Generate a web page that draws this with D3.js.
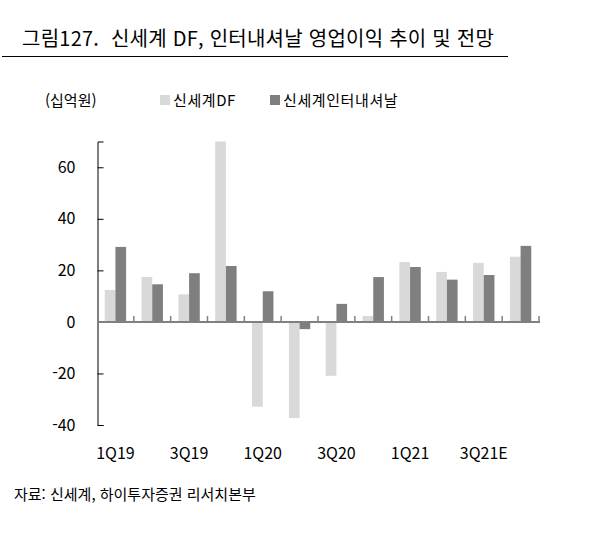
<!DOCTYPE html>
<html lang="ko">
<head>
<meta charset="utf-8">
<script src="https://d3js.org/d3.v7.min.js"></script>
<style>
	body { margin: 0; background: #fff; }
	text { font-family: 'Noto Sans CJK KR', 'Noto Sans', sans-serif; fill: #000; }
</style>
</head>
<body>
<script>
	// data (십억원)
	var quarters = ["1Q19","2Q19","3Q19","4Q19","1Q20","2Q20","3Q20","4Q20","1Q21","2Q21","3Q21E","4Q21E"];
	var dfValues = [12.4, 17.4, 10.7, 70, -32.9, -37.3, -20.9, 2.3, 23.2, 19.4, 22.9, 25.3];
	var intlValues = [29.1, 14.6, 18.9, 21.7, 11.9, -2.8, 7.0, 17.4, 21.3, 16.4, 18.2, 29.5];
	var seriesNames = ["신세계DF", "신세계인터내셔날"];
	var yTicks = [-40, -20, 0, 20, 40, 60];
	var shownLabels = ["1Q19","3Q19","1Q20","3Q20","1Q21","3Q21E"];

	var w = 609, h = 536;
	var colors = ["#d9d9d9", "#7f7f7f"];

	var svg = d3.select("body").append("svg")
		.attr("width", w)
		.attr("height", h);

	// title + rule
	svg.append("text")
		.attr("x", 22)
		.attr("y", 46)
		.attr("font-size", 20)
		.attr("letter-spacing", 0.25)
		.style("white-space", "pre")
		.text("그림127.  신세계 DF, 인터내셔날 영업이익 추이 및 전망");

	svg.append("line")
		.attr("x1", 2).attr("x2", 508)
		.attr("y1", 56.5).attr("y2", 56.5)
		.attr("stroke", "#000")
		.attr("stroke-width", 1);

	// unit + legend
	svg.append("text")
		.attr("x", 45)
		.attr("y", 106)
		.attr("font-size", 15)
		.text("(십억원)");

	var legendX = [160, 270];
	seriesNames.forEach(function(name, i){
		svg.append("rect")
			.attr("x", legendX[i]).attr("y", 95)
			.attr("width", 10).attr("height", 10)
			.attr("fill", colors[i]);
		svg.append("text")
			.attr("x", legendX[i] + 13)
			.attr("y", 106)
			.attr("font-size", 15)
			.attr("letter-spacing", 0.6)
			.text(name);
	});

	// scales
	var x = d3.scaleBand()
		.domain(quarters)
		.range([97, 539])
		.paddingInner(0)
		.paddingOuter(0);

	var inner = d3.scaleBand()
		.domain([0, 1])
		.range([x.bandwidth() * 0.21, x.bandwidth() * 0.79]);

	var y = d3.scaleLinear()
		.domain([-40, 70])
		.range([425, 141.5]);

	var data = quarters.map(function(q, i){
		return { q: q, vals: [dfValues[i], intlValues[i]] };
	});

	// bars
	var groups = svg.selectAll("g.grp")
		.data(data)
		.enter().append("g")
		.attr("class", "grp")
		.attr("transform", function(d){ return "translate(" + x(d.q) + ",0)"; });

	groups.selectAll("rect")
		.data(function(d){ return d.vals; })
		.enter().append("rect")
		.attr("x", function(d, i){ return inner(i); })
		.attr("width", inner.bandwidth())
		.attr("y", function(d){ return y(Math.max(0, d)); })
		.attr("height", function(d){ return Math.abs(y(d) - y(0)); })
		.attr("fill", function(d, i){ return colors[i]; });

	// y axis
	var yAxis = d3.axisLeft(y)
		.tickValues(yTicks)
		.tickSize(-6)
		.tickPadding(22)
		.tickFormat(function(d){ return String(d); });

	var gy = svg.append("g")
		.attr("transform", "translate(97.5,0)")
		.call(yAxis);
	gy.select(".domain").attr("stroke", "#000");
	gy.selectAll(".tick line").attr("stroke", "#000");
	gy.selectAll(".tick text")
		.attr("font-size", 16)
		.attr("font-family", "'Noto Sans CJK KR', sans-serif")
		.attr("fill", "#000");
	// drop the 0 tick mark (zero line covers it)
	gy.selectAll(".tick").filter(function(d){ return d === 0; }).select("line").remove();

	// zero line with category ticks pointing up
	svg.append("line")
		.attr("x1", 97).attr("x2", 540)
		.attr("y1", y(0)).attr("y2", y(0))
		.attr("stroke", "#808080")
		.attr("stroke-width", 2);

	var bounds = quarters.map(function(q){ return x(q); }).concat([x.range()[1]]);
	svg.selectAll("line.cat")
		.data(bounds.slice(1))
		.enter().append("line")
		.attr("class", "cat")
		.attr("x1", function(d){ return d; })
		.attr("x2", function(d){ return d; })
		.attr("y1", y(0))
		.attr("y2", y(0) - 6)
		.attr("stroke", "#808080")
		.attr("stroke-width", 1.5);

	// x labels (every other quarter)
	svg.selectAll("text.xl")
		.data(shownLabels)
		.enter().append("text")
		.attr("class", "xl")
		.attr("x", function(d){ return x(d) + x.bandwidth() / 2; })
		.attr("y", 459)
		.attr("text-anchor", "middle")
		.attr("font-size", 16)
		.text(function(d){ return d; });

	// source
	svg.append("text")
		.attr("x", 14)
		.attr("y", 500)
		.attr("font-size", 15)
		.text("자료: 신세계, 하이투자증권 리서치본부");
</script>
</body>
</html>
